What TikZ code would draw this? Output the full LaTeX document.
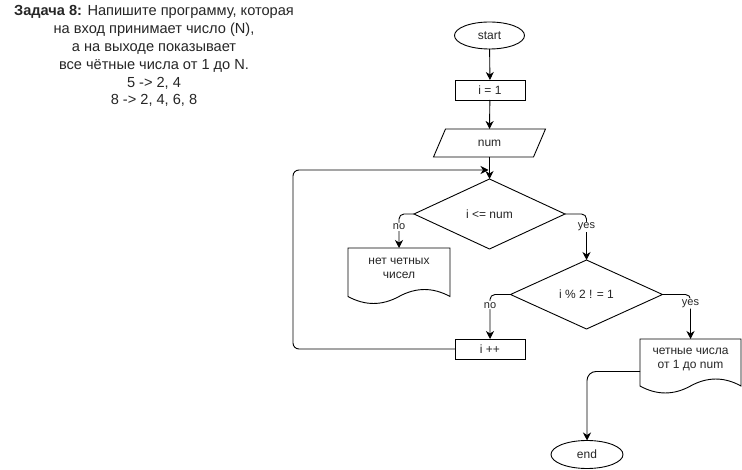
\documentclass[tikz,border=0pt]{standalone}
\usepackage{fontspec}
\setmainfont{Liberation Sans}
\usetikzlibrary{shapes.geometric,arrows.meta,calc}
\tikzset{
  shp/.style={draw=black, line width=0.9pt},
  txt/.style={font=\fontsize{12}{14}\selectfont, text=black!85, align=center},
  term/.style={shp, txt, ellipse, inner sep=0pt, outer sep=0pt},
  proc/.style={shp, txt, rectangle, inner sep=0pt, outer sep=0pt, minimum width=70, minimum height=20},
  dec/.style={shp, txt, diamond, inner sep=0pt, outer sep=0pt, minimum width=151, minimum height=70},
  ghost/.style={txt, rectangle, inner sep=0pt, outer sep=0pt},
  arr/.style={draw=black, line width=0.9pt, -{Stealth[length=8pt,width=8pt,inset=2.5pt]}},
  lbl/.style={font=\fontsize{11}{13}\selectfont, text=black!85, fill=white, inner sep=1pt}
}
\begin{document}
\begin{tikzpicture}[x=1pt,y=-1pt]
\fill[white] (0,0) rectangle (742,470);
\useasboundingbox (0,0) rectangle (742,470);

% task text
\node[txt, font=\fontsize{14.6}{17.9}\selectfont] (task) at (154,56)
 {\textbf{Задача 8:} Напишите программу, которая\\
  на вход принимает число (N),\\
  а на выходе показывает\\
  все чётные числа от 1 до N.\\
  5 -> 2, 4\\
  8 -> 2, 4, 6, 8};

% nodes
\node[term, minimum width=70, minimum height=27] (start) at (489.5,35.5) {start};
\node[proc] (i1) at (490,90) {i = 1};
\node[ghost, minimum width=100, minimum height=28] (num) at (489.5,143) {num};
\draw[shp] ($(num.north west)+(6,0)$) -- ($(num.north east)+(6,0)$)
  -- ($(num.south east)+(-6,0)$) -- ($(num.south west)+(-6,0)$) -- cycle;
\node[dec] (d1) at (489.5,214) {i <= num};
\node[dec, minimum width=152, minimum height=69] (d2) at (586.5,294.5) {i \% 2 ! = 1};
\node[proc] (inc) at (490,349) {i ++};

\node[ghost, minimum width=102, minimum height=41] (doc1) at (399,268.5) {нет четных\\ чисел};
\draw[shp] (doc1.north west) -- (doc1.north east) -- ($(doc1.north east)+(0,48.5)$)
  .. controls ($(doc1.north east)+(-17,39.2)$) and ($(doc1.north east)+(-34,39.2)$) .. ($(doc1.north)+(0,48.5)$)
  .. controls ($(doc1.north)+(-17,57.8)$) and ($(doc1.north)+(-34,57.8)$) .. ($(doc1.north west)+(0,48.5)$)
  -- cycle;

\node[ghost, minimum width=101, minimum height=41] (doc2) at (690.5,359.5) {четные числа\\ от 1 до num};
\draw[shp] (doc2.north west) -- (doc2.north east) -- ($(doc2.north east)+(0,47)$)
  .. controls ($(doc2.north east)+(-16.8,37.7)$) and ($(doc2.north east)+(-33.7,37.7)$) .. ($(doc2.north)+(0,47)$)
  .. controls ($(doc2.north)+(-16.8,56.3)$) and ($(doc2.north)+(-33.7,56.3)$) .. ($(doc2.north west)+(0,47)$)
  -- cycle;

\node[term, minimum width=72, minimum height=28] (end) at (587,454.5) {end};

% helper coordinates
\coordinate (loopx) at (293,170);
\coordinate (looptop) at (488.5,170);
\coordinate (d2out) at ($(doc2.north west)+(0,32.5)$);

% connectors
\draw[arr] (start) -- (i1);
\draw[arr] (i1) -- (num.south |- num.north);
\draw[arr] (num.south) -- (d1.north);
\draw[arr, rounded corners=6] (inc.west) -| (loopx) -- (looptop);
\draw[arr, rounded corners=5] (d1.west) -| node[lbl, pos=0.69] {no} (doc1.north);
\draw[arr, rounded corners=5] (d1.east) -| node[lbl, pos=0.64] {yes} (d2.north);
\draw[arr, rounded corners=5] (d2.west) -| node[lbl, pos=0.62] {no} (inc.north);
\draw[arr, rounded corners=5] (d2.east) -| node[lbl, pos=0.60] {yes} (doc2.north);
\draw[arr, rounded corners=9] (d2out) -| (end.north);
\end{tikzpicture}
\end{document}
